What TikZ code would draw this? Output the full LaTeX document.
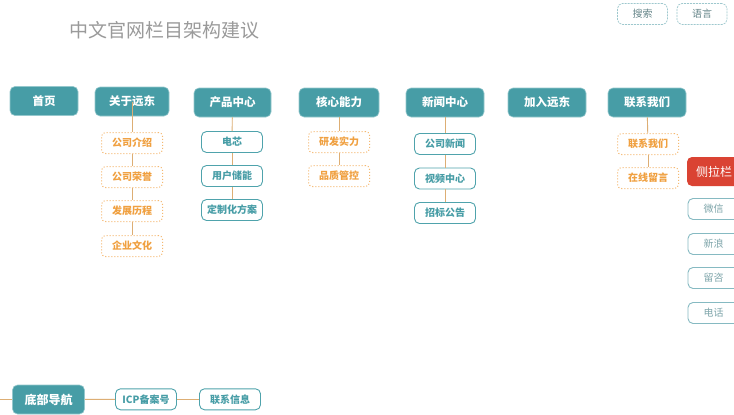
\documentclass[tikz,border=0pt]{standalone}
\usepackage{fontspec}
\newfontfamily\cjk{Noto Sans CJK SC}
\definecolor{tealf}{HTML}{479DA6}
\definecolor{tealb}{HTML}{4FA3AC}
\definecolor{orangeT}{HTML}{F0A040}
\definecolor{orangeB}{HTML}{F5B870}
\definecolor{linec}{HTML}{DDAE74}
\definecolor{redf}{HTML}{DA4333}
\definecolor{sideb}{HTML}{86BAC2}
\definecolor{sidet}{HTML}{7FA6AB}
\definecolor{titlec}{HTML}{9A9A9A}
\tikzset{
  topbox/.style={fill=tealf, draw=tealb!60!white, line width=0.6pt, rounded corners=5pt,
    minimum height=29pt, inner sep=0pt, text=white, font=\cjk\bfseries\fontsize{11.5}{12}\selectfont},
  orgbox/.style={draw=orangeB, dotted, line width=1pt, rounded corners=4pt, fill=white,
    minimum width=61pt, minimum height=21pt, inner sep=0pt, text=orangeT,
    font=\cjk\bfseries\fontsize{10}{11}\selectfont},
  tealbox/.style={draw=tealb, line width=0.9pt, rounded corners=5pt, fill=white,
    minimum width=61pt, minimum height=21pt, inner sep=0pt, text=tealf,
    font=\cjk\bfseries\fontsize{10}{11}\selectfont},
  sidebox/.style={draw=sideb, line width=0.9pt, rounded corners=5pt, fill=white,
    minimum width=51pt, minimum height=21pt, inner sep=0pt, text=sidet,
    font=\cjk\fontsize{10}{11}\selectfont},
  btnbox/.style={draw=sideb!80!white, dashed, dash pattern=on 2pt off 1pt, line width=0.7pt, rounded corners=5pt,
    minimum width=50pt, minimum height=21pt, inner sep=0pt, text=sidet!80!black,
    font=\cjk\fontsize{10}{11}\selectfont},
  conn/.style={draw=linec, line width=0.9pt},
}
\begin{document}
\begin{tikzpicture}[x=1pt,y=-1pt]
\useasboundingbox (0,0) rectangle (734,415);
\clip (0,0) rectangle (734,415);
\fill[white] (0,0) rectangle (734,415);

\node[text=titlec, font=\cjk\fontsize{19}{20}\selectfont, inner sep=0pt] (title) at (164.5,30) {中文官网栏目架构建议};

\node[btnbox] (search) at (642.5,14) {搜索};
\node[btnbox] (lang) at (702,14) {语言};

% top row
\node[topbox, minimum width=68pt] (home) at (44,101) {首页};
\node[topbox, minimum width=74pt] (about) at (132,101.5) {关于远东};
\node[topbox, minimum width=77pt] (prod) at (232.5,102.5) {产品中心};
\node[topbox, minimum width=80pt] (core) at (339,102.5) {核心能力};
\node[topbox, minimum width=78pt] (news) at (445,102.5) {新闻中心};
\node[topbox, minimum width=78pt] (join) at (547,102.5) {加入远东};
\node[topbox, minimum width=78pt] (contact) at (647,102.5) {联系我们};

% about children
\node[orgbox] (a1) at (132,143) {公司介绍};
\node[orgbox] (a2) at (132,177) {公司荣誉};
\node[orgbox] (a3) at (132,211) {发展历程};
\node[orgbox] (a4) at (132,246) {企业文化};

% product children
\node[tealbox] (p1) at (232,142) {电芯};
\node[tealbox] (p2) at (232,176) {用户储能};
\node[tealbox] (p3) at (232,210) {定制化方案};

% core children
\node[orgbox] (c1) at (339,142) {研发实力};
\node[orgbox] (c2) at (339,176) {品质管控};

% news children
\node[tealbox] (n1) at (445,144) {公司新闻};
\node[tealbox] (n2) at (445,178.5) {视频中心};
\node[tealbox] (n3) at (445,213) {招标公告};

% contact children
\node[orgbox] (k1) at (648,144) {联系我们};
\node[orgbox] (k2) at (648,178) {在线留言};

% side bar
\node[fill=redf, rounded corners=5pt, minimum width=54pt, minimum height=29pt, inner sep=0pt,
  text=white, font=\cjk\fontsize{12}{13}\selectfont] (side) at (714,171.5) {侧拉栏};
\node[sidebox] (s1) at (713.5,209) {微信};
\node[sidebox] (s2) at (713.5,244) {新浪};
\node[sidebox] (s3) at (713.5,278) {留咨};
\node[sidebox] (s4) at (713.5,313) {电话};

% bottom
\coordinate (bl) at (0,399.5);
\node[topbox, minimum width=72pt, font=\cjk\bfseries\fontsize{12}{13}\selectfont] (foot) at (48.5,399.5) {底部导航};
\node[tealbox] (icp) at (146,399.3) {ICP备案号};
\node[tealbox] (info) at (230,399.3) {联系信息};

% connectors
\draw[conn] (about.center) -- (a1.north);
\draw[conn] (a1) -- (a2); \draw[conn] (a2) -- (a3); \draw[conn] (a3) -- (a4);
\draw[conn] (prod) -- (p1); \draw[conn] (p1) -- (p2); \draw[conn] (p2) -- (p3);
\draw[conn] (core) -- (c1); \draw[conn] (c1) -- (c2);
\draw[conn] (news) -- (n1); \draw[conn] (n1) -- (n2); \draw[conn] (n2) -- (n3);
\draw[conn] (contact) -- (k1); \draw[conn] (k1) -- (k2);
\draw[conn] (bl) -- (foot); \draw[conn] (foot) -- (icp); \draw[conn] (icp) -- (info);
\end{tikzpicture}
\end{document}
